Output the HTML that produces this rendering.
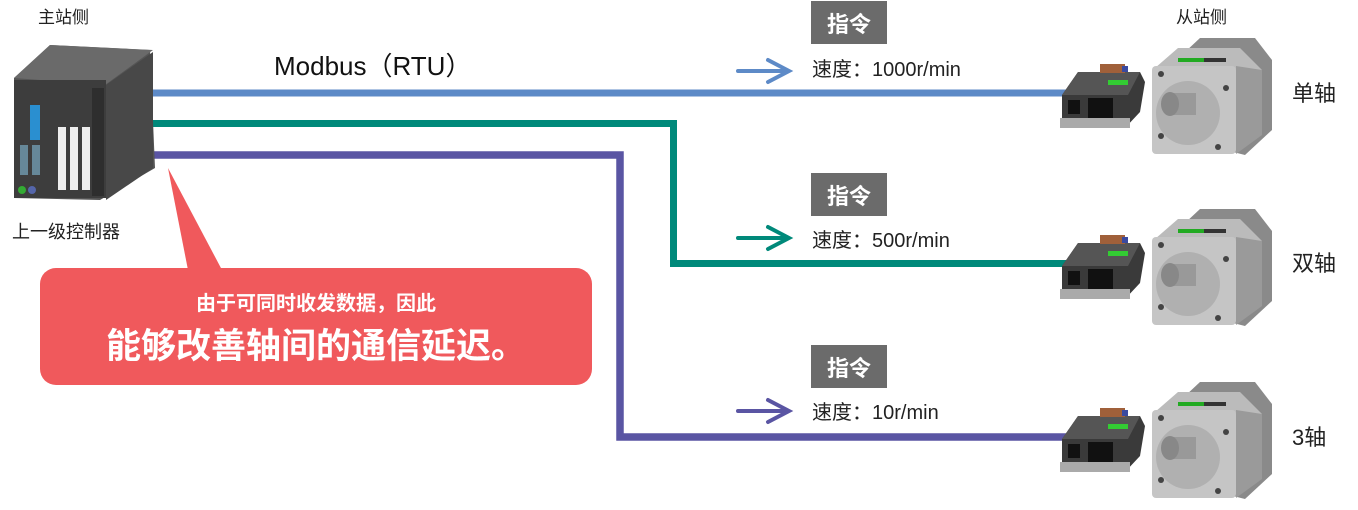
<!DOCTYPE html>
<html><head><meta charset="utf-8"><style>
body{margin:0;width:1358px;height:505px;background:#fff;overflow:hidden;font-family:"Liberation Sans","Noto Sans CJK SC",sans-serif;}
svg text{font-family:"Liberation Sans","Noto Sans CJK SC",sans-serif;}
</style></head><body>
<svg width="1358" height="505" viewBox="0 0 1358 505" xmlns="http://www.w3.org/2000/svg">
<defs>
<g id="drv">
 <path d="M1062 95 L1078 72 L1140 72 L1145 82 L1140 112 L1125 128 L1062 128 Z" fill="#3a3a3a"/>
 <path d="M1062 95 L1078 72 L1140 72 L1128 95 Z" fill="#555"/>
 <rect x="1100" y="64" width="25" height="9" fill="#a0603a"/>
 <rect x="1122" y="66" width="6" height="6" fill="#3a4aa0"/>
 <rect x="1108" y="80" width="20" height="5" fill="#3c3" />
 <rect x="1068" y="100" width="12" height="14" fill="#111"/>
 <rect x="1088" y="98" width="25" height="22" fill="#111"/>
 <rect x="1060" y="118" width="70" height="10" fill="#aaa"/>
</g>
<g id="mot">
 <path d="M1185 52 L1200 38 L1255 38 L1272 60 L1272 130 L1245 155 L1225 150 Z" fill="#8a8a8a"/>
 <path d="M1155 68 L1178 48 L1240 48 L1262 70 Z" fill="#bbb"/>
 <rect x="1152" y="66" width="84" height="88" rx="4" fill="#c5c5c5"/>
 <path d="M1236 66 L1262 70 L1262 135 L1236 154 Z" fill="#9a9a9a"/>
 <circle cx="1188" cy="113" r="32" fill="#b0b0b0"/>
 <rect x="1170" y="93" width="26" height="22" fill="#999"/>
 <ellipse cx="1170" cy="104" rx="9" ry="12" fill="#888"/>
 <rect x="1178" y="58" width="26" height="4" fill="#2a2"/>
 <rect x="1204" y="58" width="22" height="4" fill="#333"/>
 <circle cx="1161" cy="74" r="3" fill="#444"/><circle cx="1226" cy="88" r="3" fill="#444"/>
 <circle cx="1161" cy="136" r="3" fill="#444"/><circle cx="1218" cy="147" r="3" fill="#444"/>
</g>
<g id="cmd">
 <rect x="811" y="1" width="76" height="43" fill="#6b6b6b"/>
 <text x="849" y="32" font-size="22" font-weight="bold" fill="#fff" text-anchor="middle">指令</text>
</g>
</defs>

<polyline points="150,93 1070,93" fill="none" stroke="#5d8ac7" stroke-width="7"/>
<polyline points="150,123.5 673.5,123.5 673.5,263.5 1070,263.5" fill="none" stroke="#00897a" stroke-width="7"/>
<polyline points="150,155 620,155 620,437 1070,437" fill="none" stroke="#5a55a3" stroke-width="7.5"/>

<path d="M14 78 L50 45 L150 50 L155 168 L100 200 L14 198 Z" fill="#555"/>
<path d="M14 78 L50 45 L153 50 L105 85 Z" fill="#6a6a6a"/>
<rect x="14" y="80" width="92" height="118" fill="#3d3d3d"/>
<rect x="92" y="88" width="12" height="108" fill="#2e2e2e"/>
<path d="M106 85 L153 52 L153 168 L106 200 Z" fill="#484848"/>
<rect x="58" y="127" width="8" height="63" fill="#eee"/><rect x="70" y="127" width="8" height="63" fill="#eee"/><rect x="82" y="127" width="8" height="63" fill="#eee"/>
<rect x="30" y="105" width="10" height="35" fill="#2a8fd0"/>
<rect x="20" y="145" width="8" height="30" fill="#689"/><rect x="32" y="145" width="8" height="30" fill="#689"/>
<circle cx="22" cy="190" r="4" fill="#3a3"/><circle cx="32" cy="190" r="4" fill="#56a"/>

<text x="38" y="23" font-size="17" fill="#222">主站侧</text>
<text x="12" y="238" font-size="18" fill="#222">上一级控制器</text>
<text x="274" y="75" font-size="26" fill="#111">Modbus（RTU）</text>

<path d="M168 168 L222 270 L188 270 Z" fill="#f0595c"/>
<rect x="40" y="268" width="552" height="117" rx="16" fill="#f0595c"/>
<text x="316" y="310" font-size="20" font-weight="bold" fill="#fff" text-anchor="middle">由于可同时收发数据，因此</text>
<text x="316" y="358" font-size="35" font-weight="bold" fill="#fff" text-anchor="middle">能够改善轴间的通信延迟。</text>

<use href="#cmd"/>
<use href="#cmd" y="172"/>
<use href="#cmd" y="344"/>
<g font-size="20" fill="#222">
<text x="812" y="76">速度：1000r/min</text>
<text x="812" y="247">速度：500r/min</text>
<text x="812" y="419">速度：10r/min</text>
</g>
<g fill="none" stroke-width="4" stroke-linecap="round">
<path d="M738 71 H788 M768 60 L789 71 L768 82" stroke="#5d8ac7"/>
<path d="M738 238 H788 M768 227 L789 238 L768 249" stroke="#00897a"/>
<path d="M738 411 H788 M768 400 L789 411 L768 422" stroke="#5a55a3"/>
</g>

<text x="1176" y="23" font-size="17" fill="#222">从站侧</text>
<use href="#drv"/><use href="#mot"/>
<use href="#drv" y="171"/><use href="#mot" y="171"/>
<use href="#drv" y="344"/><use href="#mot" y="344"/>
<g font-size="22" fill="#222">
<text x="1292" y="101">单轴</text>
<text x="1292" y="271">双轴</text>
<text x="1292" y="445">3轴</text>
</g>
</svg>
</body></html>
